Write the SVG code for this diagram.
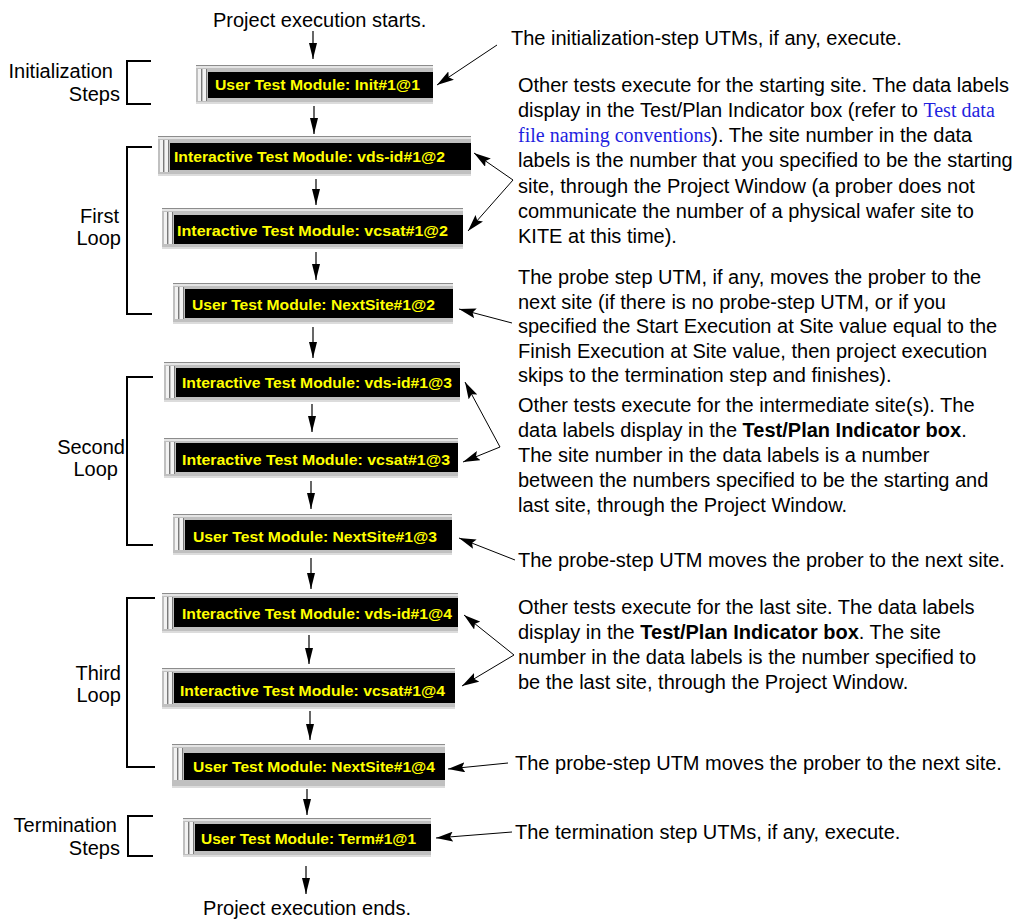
<svg xmlns="http://www.w3.org/2000/svg" width="1015" height="920" viewBox="0 0 1015 920">
<style>
  .t { font-family: "Liberation Sans", Arial, sans-serif; font-size: 20px; fill: #000; }
  .lnk { font-family: "Liberation Serif", "Times New Roman", serif; fill: #1f1fe0; }
  .b { font-weight: bold; }
  .nt { font-family: "Liberation Sans", Arial, sans-serif; font-size: 15px; font-weight: bold; fill: #ffff00; }
  .frame { fill: #c0c0c0; }
  .topd { fill: #8c8c8c; }
  .topl { fill: #e4e4e4; }
  .grl { fill: #f2f2f2; }
  .grd { fill: #7a7a7a; }
  .blk { fill: #000; }
  .bot { fill: #dcdcdc; }
  .br { fill: none; stroke: #000; stroke-width: 2; }
  .flow { stroke: #000; stroke-width: 1.2; fill: none; marker-end: url(#ah); }
  .callh { stroke: #000; stroke-width: 1; fill: none; marker-end: url(#ah2); }
</style>
<defs>
  <marker id="ah" viewBox="0 0 16 8" refX="16" refY="4" markerWidth="16" markerHeight="8" markerUnits="userSpaceOnUse" orient="auto">
    <path d="M0,0 L16,4 L0,8 z" fill="#000"/>
  </marker>
  <marker id="ah2" viewBox="0 0 17 10" refX="17" refY="5" markerWidth="17" markerHeight="10" markerUnits="userSpaceOnUse" orient="auto">
    <path d="M0,0 L17,5 L0,10 L3,5 z" fill="#000"/>
  </marker>
  <g id="grip">
    <rect class="grl" x="2" y="4" width="3" height="32"/>
    <rect class="grd" x="5" y="4" width="1" height="32"/>
    <rect class="grl" x="7" y="4" width="3" height="32"/>
    <rect class="grd" x="10" y="4" width="1" height="32"/>
  </g>
</defs>
<rect width="1015" height="920" fill="#fff"/>

<!-- brackets and side labels -->
<g id="bracket-init">
  <path class="br" d="M151,61 H127 V104 H151"/>
  <text class="t" x="113" y="78" text-anchor="end">Initialization</text>
  <text class="t" x="120" y="101" text-anchor="end">Steps</text>
</g>
<g id="bracket-first">
  <path class="br" d="M152,147 H127 V314 H152"/>
  <text class="t" x="119" y="223" text-anchor="end">First</text>
  <text class="t" x="121" y="245" text-anchor="end">Loop</text>
</g>
<g id="bracket-second">
  <path class="br" d="M153,377 H127 V545 H153"/>
  <text class="t" x="125" y="454" text-anchor="end">Second</text>
  <text class="t" x="118" y="476" text-anchor="end">Loop</text>
</g>
<g id="bracket-third">
  <path class="br" d="M155,598 H127 V767 H155"/>
  <text class="t" x="121" y="680" text-anchor="end">Third</text>
  <text class="t" x="121" y="702" text-anchor="end">Loop</text>
</g>
<g id="bracket-term">
  <path class="br" d="M153,816 H128 V856 H153"/>
  <text class="t" x="117" y="832" text-anchor="end">Termination</text>
  <text class="t" x="120" y="855" text-anchor="end">Steps</text>
</g>

<!-- nodes -->
<g id="n-init" transform="translate(196,65)">
  <rect class="frame" width="237" height="39"/><rect class="topd" width="237" height="1"/><rect class="topl" y="1" width="237" height="2"/>
  <use href="#grip"/><rect class="blk" x="12" y="7" width="225" height="26"/><rect class="bot" y="37" width="237" height="2"/>
  <text class="nt" x="19" y="25" textLength="205" lengthAdjust="spacingAndGlyphs">User Test Module: Init#1@1</text>
</g>
<g id="n-vdsid2" transform="translate(158,136)">
  <rect class="frame" width="313" height="40"/><rect class="topd" width="313" height="1"/><rect class="topl" y="1" width="313" height="2"/>
  <use href="#grip"/><rect class="blk" x="12" y="7" width="301" height="27"/><rect class="bot" y="38" width="313" height="2"/>
  <text class="nt" x="16" y="26" textLength="271" lengthAdjust="spacingAndGlyphs">Interactive Test Module: vds-id#1@2</text>
</g>
<g id="n-vcsat2" transform="translate(162,208)">
  <rect class="frame" width="301" height="41"/><rect class="topd" width="301" height="1"/><rect class="topl" y="1" width="301" height="2"/>
  <use href="#grip"/><rect class="blk" x="12" y="7" width="289" height="29"/><rect class="bot" y="39" width="301" height="2"/>
  <text class="nt" x="15" y="28" textLength="271" lengthAdjust="spacingAndGlyphs">Interactive Test Module: vcsat#1@2</text>
</g>
<g id="n-next2" transform="translate(173,283)">
  <rect class="frame" width="280" height="41"/><rect class="topd" width="280" height="1"/><rect class="topl" y="1" width="280" height="2"/>
  <use href="#grip"/><rect class="blk" x="12" y="6" width="268" height="29"/><rect class="bot" y="39" width="280" height="2"/>
  <text class="nt" x="19" y="27" textLength="243" lengthAdjust="spacingAndGlyphs">User Test Module: NextSite#1@2</text>
</g>
<g id="n-vdsid3" transform="translate(164,362)">
  <rect class="frame" width="296" height="40"/><rect class="topd" width="296" height="1"/><rect class="topl" y="1" width="296" height="2"/>
  <use href="#grip"/><rect class="blk" x="12" y="6" width="284" height="29"/><rect class="bot" y="38" width="296" height="2"/>
  <text class="nt" x="18" y="26" textLength="270" lengthAdjust="spacingAndGlyphs">Interactive Test Module: vds-id#1@3</text>
</g>
<g id="n-vcsat3" transform="translate(164,438)">
  <rect class="frame" width="294" height="40"/><rect class="topd" width="294" height="1"/><rect class="topl" y="1" width="294" height="2"/>
  <use href="#grip"/><rect class="blk" x="12" y="5" width="282" height="29"/><rect class="bot" y="38" width="294" height="2"/>
  <text class="nt" x="18" y="27" textLength="268" lengthAdjust="spacingAndGlyphs">Interactive Test Module: vcsat#1@3</text>
</g>
<g id="n-next3" transform="translate(173,514)">
  <rect class="frame" width="279" height="41"/><rect class="topd" width="279" height="1"/><rect class="topl" y="1" width="279" height="2"/>
  <use href="#grip"/><rect class="blk" x="12" y="6" width="267" height="30"/><rect class="bot" y="39" width="279" height="2"/>
  <text class="nt" x="20" y="28" textLength="244" lengthAdjust="spacingAndGlyphs">User Test Module: NextSite#1@3</text>
</g>
<g id="n-vdsid4" transform="translate(162,593)">
  <rect class="frame" width="296" height="40"/><rect class="topd" width="296" height="1"/><rect class="topl" y="1" width="296" height="2"/>
  <use href="#grip"/><rect class="blk" x="12" y="5" width="284" height="29"/><rect class="bot" y="38" width="296" height="2"/>
  <text class="nt" x="20" y="26" textLength="270" lengthAdjust="spacingAndGlyphs">Interactive Test Module: vds-id#1@4</text>
</g>
<g id="n-vcsat4" transform="translate(162,668)">
  <rect class="frame" width="293" height="41"/><rect class="topd" width="293" height="1"/><rect class="topl" y="1" width="293" height="2"/>
  <use href="#grip"/><rect class="blk" x="12" y="5" width="281" height="30"/><rect class="bot" y="39" width="293" height="2"/>
  <text class="nt" x="18" y="28" textLength="265" lengthAdjust="spacingAndGlyphs">Interactive Test Module: vcsat#1@4</text>
</g>
<g id="n-next4" transform="translate(172,744)">
  <rect class="frame" width="273" height="44"/><rect class="topd" width="273" height="1"/><rect class="topl" y="1" width="273" height="2"/>
  <use href="#grip"/><rect class="blk" x="12" y="9" width="261" height="27"/><rect class="bot" y="42" width="273" height="2"/>
  <text class="nt" x="21" y="28" textLength="242" lengthAdjust="spacingAndGlyphs">User Test Module: NextSite#1@4</text>
</g>
<g id="n-term" transform="translate(183,818)">
  <rect class="frame" width="248" height="39"/><rect class="topd" width="248" height="1"/><rect class="topl" y="1" width="248" height="2"/>
  <use href="#grip"/><rect class="blk" x="12" y="6" width="236" height="27"/><rect class="bot" y="37" width="248" height="2"/>
  <text class="nt" x="18" y="26" textLength="215" lengthAdjust="spacingAndGlyphs">User Test Module: Term#1@1</text>
</g>

<!-- connectors -->
<g id="connectors">
  <line class="flow" x1="313" y1="31" x2="313" y2="59"/>
  <line class="flow" x1="314" y1="106" x2="314" y2="134"/>
  <line class="flow" x1="316" y1="179" x2="316" y2="205"/>
  <line class="flow" x1="316" y1="252" x2="316" y2="280"/>
  <line class="flow" x1="313" y1="327" x2="313" y2="358"/>
  <line class="flow" x1="312" y1="404" x2="312" y2="432"/>
  <line class="flow" x1="311" y1="481" x2="311" y2="509"/>
  <line class="flow" x1="311" y1="558" x2="311" y2="589"/>
  <line class="flow" x1="309" y1="635" x2="309" y2="664"/>
  <line class="flow" x1="310" y1="711" x2="310" y2="740"/>
  <line class="flow" x1="307" y1="789" x2="307" y2="815"/>
  <line class="flow" x1="306" y1="866" x2="306" y2="894"/>

  <line class="callh" x1="497" y1="45" x2="437" y2="85"/>
  <line class="callh" x1="513" y1="180" x2="474" y2="153"/>
  <line class="callh" x1="513" y1="180" x2="468" y2="231"/>
  <line class="callh" x1="512" y1="323" x2="459" y2="309"/>
  <line class="callh" x1="500" y1="447" x2="465" y2="382"/>
  <line class="callh" x1="500" y1="447" x2="463" y2="462"/>
  <line class="callh" x1="515" y1="560" x2="459" y2="538"/>
  <line class="callh" x1="514" y1="655" x2="464" y2="615"/>
  <line class="callh" x1="514" y1="655" x2="462" y2="686"/>
  <line class="callh" x1="508" y1="763" x2="448" y2="769"/>
  <line class="callh" x1="512" y1="832" x2="436" y2="838"/>
</g>

<!-- texts -->
<g id="texts">
  <text class="t" x="213" y="27">Project execution starts.</text>
  <text class="t" x="307" y="915" text-anchor="middle">Project execution ends.</text>
  <text class="t" x="511" y="45">The initialization-step UTMs, if any, execute.</text>

  <text class="t" x="518" y="92">Other tests execute for the starting site. The data labels</text>
  <text class="t" x="518" y="117">display in the Test/Plan Indicator box (refer to <tspan class="lnk">Test data</tspan></text>
  <text class="t" x="518" y="142"><tspan class="lnk">file naming conventions</tspan>). The site number in the data</text>
  <text class="t" x="518" y="167">labels is the number that you specified to be the starting</text>
  <text class="t" x="518" y="193">site, through the Project Window (a prober does not</text>
  <text class="t" x="518" y="218">communicate the number of a physical wafer site to</text>
  <text class="t" x="518" y="243">KITE at this time).</text>

  <text class="t" x="518" y="284">The probe step UTM, if any, moves the prober to the</text>
  <text class="t" x="518" y="309">next site (if there is no probe-step UTM, or if you</text>
  <text class="t" x="518" y="333">specified the Start Execution at Site value equal to the</text>
  <text class="t" x="518" y="358">Finish Execution at Site value, then project execution</text>
  <text class="t" x="518" y="382">skips to the termination step and finishes).</text>

  <text class="t" x="518" y="412">Other tests execute for the intermediate site(s). The</text>
  <text class="t" x="518" y="437">data labels display in the <tspan class="b">Test/Plan Indicator box</tspan>.</text>
  <text class="t" x="518" y="462">The site number in the data labels is a number</text>
  <text class="t" x="518" y="487">between the numbers specified to be the starting and</text>
  <text class="t" x="518" y="512">last site, through the Project Window.</text>

  <text class="t" x="518" y="567">The probe-step UTM moves the prober to the next site.</text>

  <text class="t" x="518" y="614">Other tests execute for the last site. The data labels</text>
  <text class="t" x="518" y="639">display in the <tspan class="b">Test/Plan Indicator box</tspan>. The site</text>
  <text class="t" x="518" y="664">number in the data labels is the number specified to</text>
  <text class="t" x="518" y="689">be the last site, through the Project Window.</text>

  <text class="t" x="515" y="770">The probe-step UTM moves the prober to the next site.</text>
  <text class="t" x="515" y="839">The termination step UTMs, if any, execute.</text>
</g>
</svg>
